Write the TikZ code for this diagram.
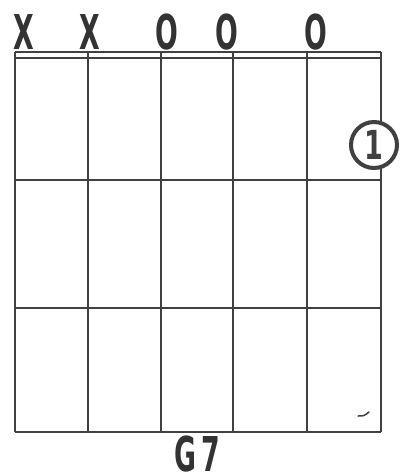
\documentclass[tikz,border=0pt]{standalone}
\usepackage{fontspec}
\setmainfont{DejaVu Sans Condensed}[BoldFont={DejaVu Sans Condensed Bold}]
\begin{document}
\begin{tikzpicture}[x=1pt,y=-1pt,
  gridline/.style={draw=black!75, line width=1.6pt},
  marklabel/.style={text=black!80, font=\bfseries\fontsize{48}{48}\selectfont, xscale=0.62, transform shape, inner sep=0, anchor=base},
  fingercircle/.style={circle, draw=black!75, line width=4pt, minimum size=46pt, inner sep=0, text=black!75, font=\bfseries\fontsize{40}{40}\selectfont}]
\useasboundingbox (0,0) rectangle (400,476);
% nut
\draw[gridline] (15,52) -- (381,52);
\draw[gridline] (15,58) -- (381,58);
% strings
\foreach \x in {15,88,161,233,307,381} \draw[gridline] (\x,52) -- (\x,432);
% frets
\foreach \y in {180,308,432} \draw[gridline] (15,\y) -- (381,\y);
% open / muted markers
\node[marklabel] (m1) at (24,50) {X};
\node[marklabel] (m2) at (90,50) {X};
\node[marklabel] (m3) at (167,50) {O};
\node[marklabel] (m4) at (227,50) {O};
\node[marklabel] (m5) at (316,50) {O};
% finger circle
\node[fingercircle, fill=white] (f1) at (374,145) {\scalebox{0.75}[1]{1}};
% chord name
\node[marklabel] (name) at (197,471) {G\,7};
% small mark
\draw[black!75, line width=1.5pt, line cap=round] (358,416) .. controls (364,416) .. (369,412);
\end{tikzpicture}
\end{document}
